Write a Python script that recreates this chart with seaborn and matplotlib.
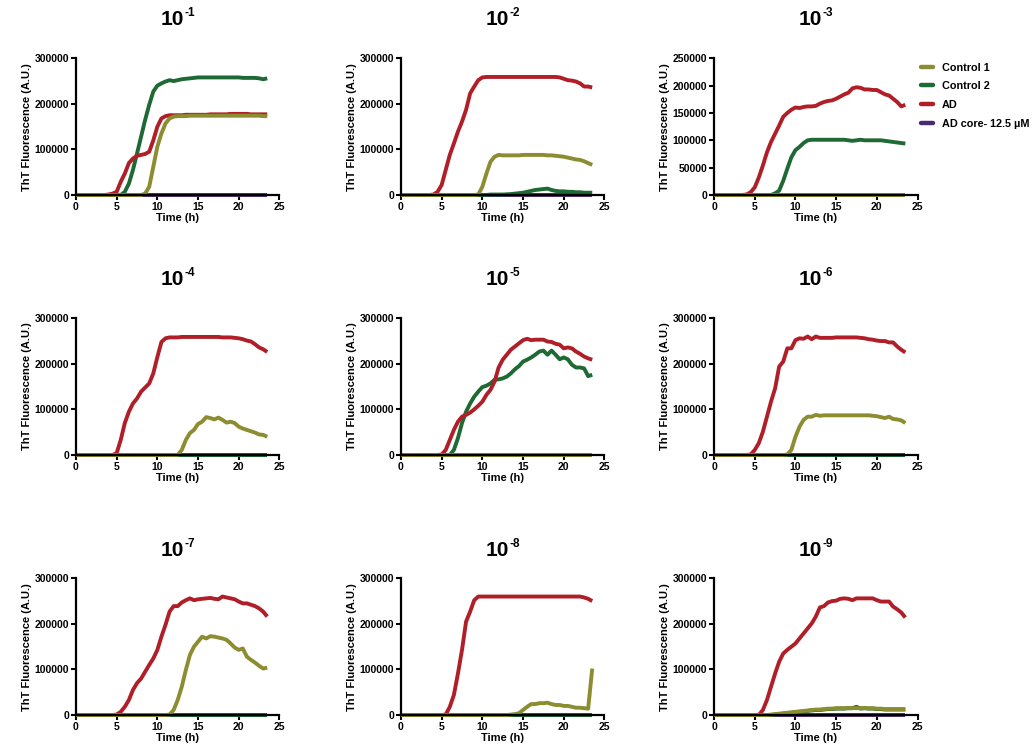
import pandas as pd
import matplotlib
matplotlib.use("Agg")
import matplotlib.pyplot as plt
import seaborn as sns
from matplotlib.lines import Line2D

# Time points (h), one reading every 30 min
time_h = [0, 0.5, 1, 1.5, 2, 2.5, 3, 3.5, 4, 4.5, 5, 5.5, 6, 6.5, 7, 7.5,
          8, 8.5, 9, 9.5, 10, 10.5, 11, 11.5, 12, 12.5, 13, 13.5, 14, 14.5, 15, 15.5,
          16, 16.5, 17, 17.5, 18, 18.5, 19, 19.5, 20, 20.5, 21, 21.5, 22, 22.5, 23, 23.5]

# ThT fluorescence readings, in thousands of A.U.
flat = [0, 0, 0, 0, 0, 0, 0, 0,
        0, 0, 0, 0, 0, 0, 0, 0,
        0, 0, 0, 0, 0, 0, 0, 0,
        0, 0, 0, 0, 0, 0, 0, 0,
        0, 0, 0, 0, 0, 0, 0, 0,
        0, 0, 0, 0, 0, 0, 0, 0]

# 10^-1
p1_ctrl1 = [0, 0, 0, 0, 0, 0, 0, 0,
            0, 0, 0, 0, 0, 0, 0, 0,
            0, 3, 18, 62, 106, 135, 157, 168,
            172, 173, 173, 173, 174, 174, 174, 174,
            174, 174, 174, 174, 174, 174, 174, 174,
            174, 174, 174, 174, 174, 174, 173, 173]
p1_ctrl2 = [0, 0, 0, 0, 0, 0, 0, 0,
            0, 0, 0, 0, 7, 25, 55, 91,
            128, 165, 198, 227, 240, 245, 249, 252,
            250, 252, 254, 255, 256, 257, 258, 258,
            258, 258, 258, 258, 258, 258, 258, 258,
            258, 257, 257, 257, 257, 256, 254, 256]
p1_ad = [0, 0, 0, 0, 0, 0, 0, 0,
         1, 3, 7, 29, 47, 70, 80, 86,
         88, 90, 95, 120, 150, 168, 173, 175,
         175, 175, 175, 176, 176, 176, 176, 176,
         176, 177, 177, 177, 177, 177, 178, 178,
         178, 178, 178, 177, 177, 177, 177, 177]

# 10^-2
p2_ctrl1 = [0, 0, 0, 0, 0, 0, 0, 0,
            0, 0, 0, 0, 0, 0, 0, 0,
            0, 0, 0, 1, 18, 47, 73, 84,
            88, 87, 87, 87, 87, 87, 88, 88,
            88, 88, 88, 88, 87, 87, 86, 85,
            84, 82, 80, 78, 77, 74, 70, 66]
p2_ctrl2 = [0, 0, 0, 0, 0, 0, 0, 0,
            0, 0, 0, 0, 0, 0, 0, 0,
            0, 0, 0, 0, 0, 0, 1, 1,
            1, 1, 1.5, 2, 3, 4, 5, 7,
            9, 11, 12, 13, 14, 11, 9, 8,
            8, 7, 7, 6, 6, 5, 5, 5]
p2_ad = [0, 0, 0, 0, 0, 0, 0, 0,
         1, 7, 22, 55, 88, 113, 139, 161,
         187, 223, 238, 252, 258, 259, 259, 259,
         259, 259, 259, 259, 259, 259, 259, 259,
         259, 259, 259, 259, 259, 259, 259, 258,
         255, 252, 251, 249, 245, 238, 238, 236]

# 10^-3
p3_ctrl2 = [0, 0, 0, 0, 0, 0, 0, 0,
            0, 0, 0, 0, 0, 0, 0, 3,
            8, 26, 48, 69, 82, 88, 95, 100,
            101, 101, 101, 101, 101, 101, 101, 101,
            101, 100, 99, 100, 101, 100, 100, 100,
            100, 100, 99, 98, 97, 96, 95, 94]
p3_ad = [0, 0, 0, 0, 0, 0, 0, 0,
         1, 5, 14, 32, 54, 78, 97, 112,
         127, 143, 150, 156, 160, 159, 161, 162,
         162, 163, 167, 170, 172, 173, 176, 180,
         184, 187, 195, 197, 196, 193, 193, 192,
         192, 188, 184, 182, 176, 170, 162, 165]

# 10^-4
p4_ctrl1 = [0, 0, 0, 0, 0, 0, 0, 0,
            0, 0, 0, 0, 0, 0, 0, 0,
            0, 0, 0, 0, 0, 0, 0, 0,
            0, 0, 11, 33, 48, 55, 68, 73,
            83, 81, 78, 82, 77, 71, 73, 70,
            62, 58, 55, 52, 49, 45, 44, 40]
p4_ad = [0, 0, 0, 0, 0, 0, 0, 0,
         0, 0, 4, 33, 70, 95, 113, 124,
         139, 148, 157, 179, 215, 248, 256, 258,
         258, 258, 259, 259, 259, 259, 259, 259,
         259, 259, 259, 259, 258, 258, 258, 257,
         256, 254, 251, 249, 243, 236, 232, 226]

# 10^-5
p5_ctrl2 = [0, 0, 0, 0, 0, 0, 0, 0,
            0, 0, 0, 0, 0, 11, 37, 70,
            95, 113, 128, 139, 149, 152, 157, 165,
            166, 168, 172, 179, 188, 195, 205, 209,
            214, 220, 227, 229, 220, 229, 220, 210,
            214, 210, 198, 192, 192, 190, 173, 176]
p5_ad = [0, 0, 0, 0, 0, 0, 0, 0,
         0, 0, 1, 11, 33, 55, 73, 84,
         88, 93, 100, 108, 117, 132, 143, 161,
         192, 209, 220, 231, 238, 245, 252, 255,
         252, 253, 253, 253, 249, 248, 244, 242,
         234, 236, 234, 227, 222, 216, 212, 209]

# 10^-6
p6_ctrl1 = [0, 0, 0, 0, 0, 0, 0, 0,
            0, 0, 0, 0, 0, 0, 0, 0,
            0, 0, 1, 11, 40, 62, 77, 84,
            84, 88, 86, 87, 87, 87, 87, 87,
            87, 87, 87, 87, 87, 87, 87, 86,
            85, 83, 81, 84, 79, 78, 76, 70]
p6_ad = [0, 0, 0, 0, 0, 0, 0, 0,
         0, 1, 11, 26, 51, 84, 117, 146,
         194, 205, 234, 234, 252, 256, 255, 260,
         254, 260, 257, 257, 257, 257, 258, 258,
         258, 258, 258, 258, 257, 256, 254, 253,
         251, 250, 250, 247, 247, 238, 231, 225]

# 10^-7
p7_ctrl1 = [0, 0, 0, 0, 0, 0, 0, 0,
            0, 0, 0, 0, 0, 0, 0, 0,
            0, 0, 0, 0, 0, 0, 0, 1,
            11, 33, 62, 99, 132, 150, 161, 172,
            168, 173, 172, 170, 168, 165, 157, 148,
            143, 146, 128, 121, 115, 108, 102, 104]
p7_ad = [0, 0, 0, 0, 0, 0, 0, 0,
         0, 0, 1, 7, 18, 33, 55, 70,
         80, 95, 110, 124, 143, 172, 198, 227,
         239, 239, 247, 252, 256, 252, 254, 255,
         256, 257, 255, 254, 260, 258, 256, 254,
         249, 245, 245, 242, 239, 234, 227, 216]

# 10^-8
p8_ctrl1 = [0, 0, 0, 0, 0, 0, 0, 0,
            0, 0, 0, 0, 0, 0, 0, 0,
            0, 0, 0, 0, 0, 0, 0, 0,
            0, 0, 0, 1, 2, 4, 11, 18,
            24, 24, 26, 26, 27, 24, 22, 22,
            20, 20, 18, 16, 16, 15, 14, 102]
p8_ad = [0, 0, 0, 0, 0, 0, 0, 0,
         0, 0, 0, 1, 18, 44, 91, 143,
         205, 227, 252, 260, 260, 260, 260, 260,
         260, 260, 260, 260, 260, 260, 260, 260,
         260, 260, 260, 260, 260, 260, 260, 260,
         260, 260, 260, 260, 260, 258, 255, 250]

# 10^-9
p9_ctrl1 = [0, 0, 0, 0, 0, 0, 0, 0,
            0, 0, 0, 0, 0, 0, 1, 2,
            3, 4, 5, 6, 7, 8, 9, 10,
            11, 12, 12, 13, 14, 14, 15, 15,
            15, 15, 15, 15, 15, 15, 15, 15,
            14, 14, 13, 13, 13, 13, 13, 13]
p9_ctrl2 = [0, 0, 0, 0, 0, 0, 0, 0,
            0, 0, 0, 0, 0, 0, 0, 1,
            2, 3, 4, 5, 6, 7, 8, 9,
            10, 11, 11, 12, 13, 13, 14, 14,
            14, 15, 15, 18, 14, 15, 14, 14,
            13, 13, 12, 12, 12, 12, 12, 12]
p9_ad = [0, 0, 0, 0, 0, 0, 0, 0,
         0, 0, 0, 0, 11, 33, 62, 91,
         117, 135, 143, 150, 157, 168, 179, 190,
         201, 216, 236, 239, 247, 250, 251, 255,
         256, 255, 252, 256, 256, 256, 256, 256,
         252, 249, 249, 249, 238, 232, 225, 214]

exponents = ["-1", "-2", "-3", "-4", "-5", "-6", "-7", "-8", "-9"]
y_max = [300000, 300000, 250000, 300000, 300000, 300000, 300000, 300000, 300000]
y_step = [100000, 100000, 50000, 100000, 100000, 100000, 100000, 100000, 100000]

# series per panel: (Control 1, Control 2, AD, AD core)
panels = [
    (p1_ctrl1, p1_ctrl2, p1_ad, flat),
    (p2_ctrl1, p2_ctrl2, p2_ad, flat),
    (flat, p3_ctrl2, p3_ad, flat),
    (p4_ctrl1, flat, p4_ad, flat),
    (flat, p5_ctrl2, p5_ad, flat),
    (p6_ctrl1, flat, p6_ad, flat),
    (p7_ctrl1, flat, p7_ad, flat),
    (p8_ctrl1, flat, p8_ad, flat),
    (p9_ctrl1, p9_ctrl2, p9_ad, flat),
]

series_names = ["Control 1", "Control 2", "AD", "AD core- 12.5 µM"]
colors = {"Control 1": "#8c8c30", "Control 2": "#1e6934",
          "AD": "#b01f28", "AD core- 12.5 µM": "#4a2a6e"}
draw_order = ["AD core- 12.5 µM", "Control 2", "AD", "Control 1"]

# Style
sns.set_style("ticks")
plt.rcParams['font.family'] = ['Liberation Sans', 'DejaVu Sans']
plt.rcParams['font.weight'] = 'bold'
plt.rcParams['axes.labelweight'] = 'bold'
plt.rcParams['axes.titleweight'] = 'bold'
plt.rcParams['text.color'] = 'black'
plt.rcParams['axes.labelcolor'] = 'black'
plt.rcParams['xtick.color'] = 'black'
plt.rcParams['ytick.color'] = 'black'

fig = plt.figure(figsize=(10.35, 7.54), dpi=100)

lefts = [0.0734, 0.3874, 0.6899]
bottoms = [0.7414, 0.3966, 0.0517]
title_pads = [24, 24, 16]
w, h = 0.1966, 0.1813

for i, series in enumerate(panels):
    row, col = divmod(i, 3)
    ax = fig.add_axes([lefts[col], bottoms[row], w, h])

    rows = []
    for name, vals in zip(series_names, series):
        for t, v in zip(time_h, vals):
            rows.append({"time": t, "value": v * 1000, "series": name})
    df = pd.DataFrame(rows)

    sns.lineplot(data=df, x="time", y="value", hue="series", hue_order=draw_order,
                 palette=colors, linewidth=2.8, errorbar=None, legend=False, ax=ax)
    for line in ax.lines:
        line.set_clip_on(False)
        line.set_solid_capstyle("butt")

    ax.set_xlim(0, 25)
    ax.set_ylim(0, y_max[i])
    ax.set_xticks(range(0, 26, 5))
    ax.set_yticks(range(0, y_max[i] + 1, y_step[i]))
    ax.set_yticklabels([str(v) for v in range(0, y_max[i] + 1, y_step[i])])
    ax.set_xlabel("Time (h)", fontsize=8, labelpad=1)
    ax.set_ylabel("ThT Fluorescence (A.U.)", fontsize=8, labelpad=2)
    ax.tick_params(labelsize=7.5, width=1.5, length=3.5, pad=1.5, color="black")
    sns.despine(ax=ax)
    for side in ["left", "bottom"]:
        ax.spines[side].set_linewidth(1.6)
        ax.spines[side].set_color("black")

    # title "10" with a small raised exponent, the pair centred over the axes
    title = ax.set_title("10", fontsize=15, fontweight="bold", pad=title_pads[row], x=0.475)
    fig.canvas.draw()
    bb = title.get_window_extent()
    fig.text((bb.x1 + 0.5) / fig.dpi / fig.get_figwidth(),
             (bb.y0 + 0.62 * 15 * fig.dpi / 72) / fig.dpi / fig.get_figheight(),
             exponents[i], fontsize=8.5, fontweight="bold", ha="left", va="baseline")

# Legend next to the top-right panel
handles = [Line2D([0], [0], color=colors[n], lw=3.2) for n in series_names]
fig.legend(handles, series_names, loc="upper left", bbox_to_anchor=(0.8899, 0.917),
           frameon=False, fontsize=7.8, handlelength=1.1, handletextpad=0.85,
           labelspacing=0.8, borderpad=0, borderaxespad=0)

plt.savefig("out.png", dpi=100)
